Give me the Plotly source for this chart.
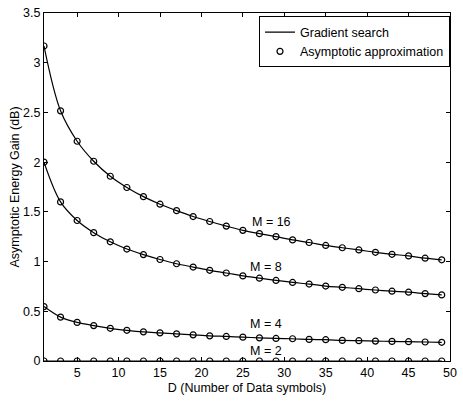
import plotly.graph_objects as go

D = list(range(1, 50, 2))
m16 = [3.168, 2.516, 2.21, 2.009, 1.858, 1.745, 1.653, 1.577, 1.512, 1.453, 1.403, 1.357, 1.314,
       1.281, 1.251, 1.218, 1.192, 1.162, 1.139, 1.117, 1.093, 1.073, 1.057, 1.034, 1.018]
m8 = [2.0, 1.60, 1.413, 1.291, 1.199, 1.126, 1.07, 1.021, 0.978, 0.945, 0.912, 0.885, 0.856,
      0.833, 0.81, 0.79, 0.774, 0.754, 0.741, 0.727, 0.714, 0.702, 0.692, 0.678, 0.665]
m4 = [0.547, 0.441, 0.388, 0.356, 0.329, 0.309, 0.293, 0.283, 0.273, 0.263, 0.253, 0.247, 0.240,
      0.233, 0.227, 0.224, 0.217, 0.214, 0.207, 0.204, 0.200, 0.197, 0.194, 0.191, 0.188]
m2 = [0.0] * len(D)
series = [("M = 16", m16), ("M = 8", m8), ("M = 4", m4), ("M = 2", m2)]
label_pos = [(28.4, 1.40), (27.8, 0.945), (27.8, 0.369), (27.8, 0.105)]

FS = 12.5
fig = go.Figure()
for i, (name, ys) in enumerate(series):
    fig.add_trace(go.Scatter(x=D, y=ys, mode="lines", line=dict(color="black", width=1.2, shape="spline"),
                             name="Gradient search", showlegend=(i == 0), legendrank=1))
for i, (name, ys) in enumerate(series):
    fig.add_trace(go.Scatter(x=D, y=ys, mode="markers",
                             marker=dict(symbol="circle-open", size=6, color="black", line=dict(width=1.2)),
                             name="Asymptotic approximation", showlegend=(i == 0), legendrank=2))
for (name, _), (lx, ly) in zip(series, label_pos):
    fig.add_annotation(x=lx, y=ly, text=name, showarrow=False, font=dict(size=FS, color="black"))

axis_common = dict(showline=True, linecolor="black", linewidth=1, mirror="ticks", ticks="inside",
                   ticklen=4, tickcolor="black", showgrid=False, zeroline=False,
                   tickfont=dict(size=FS, color="black"))
fig.update_xaxes(range=[1, 50], tickvals=list(range(5, 51, 5)),
                 title=dict(text="D (Number of Data symbols)", font=dict(size=FS, color="black"), standoff=4),
                 **axis_common)
fig.update_yaxes(range=[0, 3.5], tickvals=[0, 0.5, 1, 1.5, 2, 2.5, 3, 3.5],
                 ticktext=["0", "0.5", "1", "1.5", "2", "2.5", "3", "3.5"],
                 title=dict(text="Asymptotic Energy Gain (dB)", font=dict(size=FS, color="black"), standoff=0),
                 **axis_common)
fig.update_layout(width=463, height=401, margin=dict(l=44, r=6, t=7, b=40),
                  plot_bgcolor="white", paper_bgcolor="white",
                  font=dict(family="Liberation Sans, Arial, sans-serif", size=FS, color="black"),
                  legend=dict(x=1, y=0.99, xanchor="right", yanchor="top", bordercolor="black", borderwidth=1,
                              bgcolor="white", tracegroupgap=0, itemwidth=30,
                              font=dict(size=FS), traceorder="normal"))
fig.write_html("out.html")
